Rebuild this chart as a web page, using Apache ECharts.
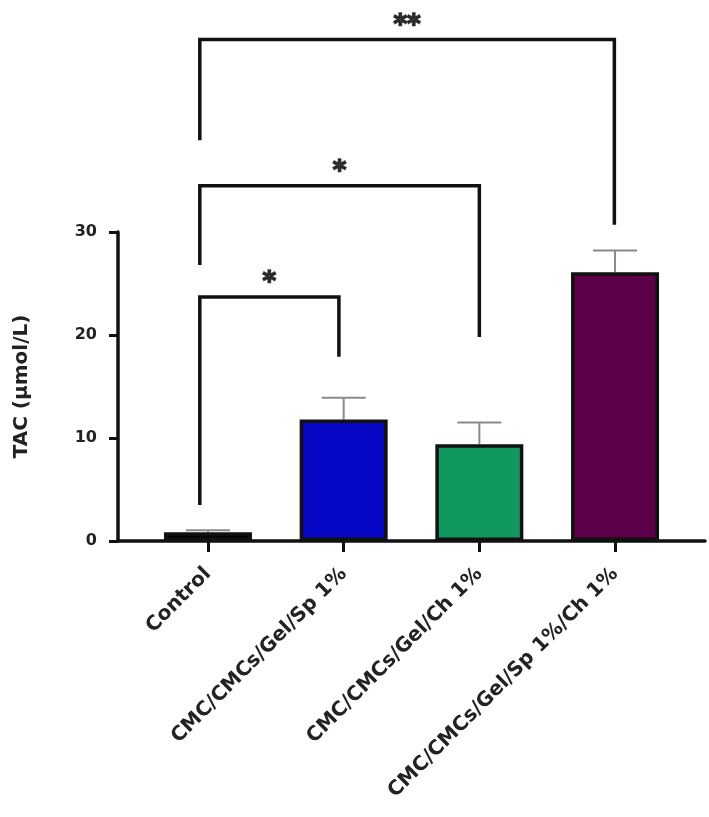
<!DOCTYPE html>
<html>
<head>
<meta charset="utf-8">
<script src="https://cdn.jsdelivr.net/npm/echarts@6/dist/echarts.min.js"></script>
<style>
html,body{margin:0;padding:0;background:#fff;}
#chart{width:709px;height:817px;}
</style>
</head>
<body>
<div id="chart"></div>
<script>
// ---- data ----
const categories = ['Control', 'CMC/CMCs/Gel/Sp 1%', 'CMC/CMCs/Gel/Ch 1%', 'CMC/CMCs/Gel/Sp 1%/Ch 1%'];
const means = [0.85, 11.8, 9.4, 26.1];
const errors = [0.2, 2.1, 2.1, 2.1];
const barColors = ['#000000', '#0707c6', '#11985f', '#5e0049'];
const yTicks = [0, 10, 20, 30];
const yTitle = 'TAC (μmol/L)';
// significance brackets (x in category index units, y in TAC units)
const bracketFrom = [-0.06, -0.06, -0.06];
const bracketTo = [0.965, 2.0, 2.995];
const bracketTop = [23.7, 34.5, 48.7];
const bracketLeftEnd = [3.5, 26.8, 38.9];
const bracketRightEnd = [17.9, 19.8, 30.7];
const bracketStars = ['*', '*', '**'];
const starY = [25.0, 35.8, 50.0];

// ---- layout ----
const LEFT = 118, RIGHT = 4, AXIS_Y = 541, TOP30 = 232;
const BOTTOM = 817 - AXIS_Y;
const pxPerUnit = (AXIS_Y - TOP30) / 30;
const OVER_MAX = 52;
const overTop = AXIS_Y - OVER_MAX * pxPerUnit;
const X_MIN = -0.663, X_MAX = 3.663;
const FONT = 'DejaVu Sans';

const chart = echarts.init(document.getElementById('chart'), null, {renderer: 'canvas'});

const barData = means.map((m, i) => ({value: [i, m], itemStyle: {color: barColors[i]}}));
const errData = means.map((m, i) => [i, m, errors[i]]);

const bracketSeries = bracketFrom.map((f, i) => ({
  type: 'line',
  xAxisIndex: 1, yAxisIndex: 1,
  symbol: 'none',
  silent: true,
  clip: false,
  lineStyle: {color: '#111', width: 3.5, join: 'miter', cap: 'butt'},
  data: [[f, bracketLeftEnd[i]], [f, bracketTop[i]], [bracketTo[i], bracketTop[i]], [bracketTo[i], bracketRightEnd[i]]],
  z: 5
}));

const starData = bracketFrom.map((f, i) => ({name: bracketStars[i], value: [(f + bracketTo[i]) / 2, starY[i]]}));

const option = {
  backgroundColor: '#fff',
  animation: false,
  grid: [
    {left: LEFT, right: RIGHT, top: TOP30, bottom: BOTTOM, containLabel: false},
    {left: LEFT, right: RIGHT, top: overTop, bottom: BOTTOM, containLabel: false}
  ],
  xAxis: [
    {
      type: 'value', gridIndex: 0, min: X_MIN, max: X_MAX,
      splitLine: {show: false},
      axisLine: {show: true, onZero: false, lineStyle: {color: '#111', width: 3.5}},
      axisTick: {show: true, inside: false, length: 11, customValues: [0, 1, 2, 3], lineStyle: {color: '#111', width: 3}},
      axisLabel: {
        show: true, rotate: 45, margin: 30,
        customValues: [0, 1, 2, 3],
        formatter: v => categories[Math.round(v)],
        fontFamily: FONT, fontWeight: 'bold', fontSize: 20, color: '#222'
      }
    },
    {type: 'value', gridIndex: 1, min: X_MIN, max: X_MAX, show: false}
  ],
  yAxis: [
    {
      type: 'value', gridIndex: 0, min: 0, max: 30, interval: 10,
      splitLine: {show: false},
      axisLine: {show: true, onZero: false, lineStyle: {color: '#111', width: 3.5}},
      axisTick: {show: true, inside: false, length: 9, lineStyle: {color: '#111', width: 3}},
      axisLabel: {margin: 21, fontFamily: FONT, fontWeight: 'bold', fontSize: 16, color: '#222'},
      name: yTitle, nameLocation: 'middle', nameGap: 86, nameRotate: 90,
      nameTextStyle: {fontFamily: FONT, fontWeight: 'bold', fontSize: 20, color: '#222'}
    },
    {type: 'value', gridIndex: 1, min: 0, max: OVER_MAX, show: false}
  ],
  series: [
    {
      type: 'custom', xAxisIndex: 0, yAxisIndex: 0,
      encode: {x: 0, y: 1},
      data: errData, z: 1, silent: true,
      renderItem: function (params, api) {
        const x = api.value(0), y = api.value(1), e = api.value(2);
        const p0 = api.coord([x, y]);
        const p1 = api.coord([x, y + e]);
        const st = {stroke: '#8a8a8a', lineWidth: 2};
        return {type: 'group', children: [
          {type: 'line', shape: {x1: p0[0], y1: p0[1], x2: p1[0], y2: p1[1]}, style: st},
          {type: 'line', shape: {x1: p1[0] - 22, y1: p1[1], x2: p1[0] + 22, y2: p1[1]}, style: st}
        ]};
      }
    },
    {
      type: 'bar', xAxisIndex: 0, yAxisIndex: 0,
      barWidth: 88, z: 2, silent: true,
      itemStyle: {borderColor: '#111', borderWidth: 3.5},
      data: barData
    },
    ...bracketSeries,
    {
      type: 'scatter', xAxisIndex: 1, yAxisIndex: 1,
      symbolSize: 1, clip: false, silent: true,
      itemStyle: {color: 'rgba(0,0,0,0)'},
      label: {show: true, position: 'inside', formatter: p => p.name,
        fontFamily: FONT, fontWeight: 'bold', fontSize: 26, color: '#111',
        textBorderColor: '#111', textBorderWidth: 1.6},
      data: starData, z: 6
    }
  ]
};
chart.setOption(option);
</script>
</body>
</html>
